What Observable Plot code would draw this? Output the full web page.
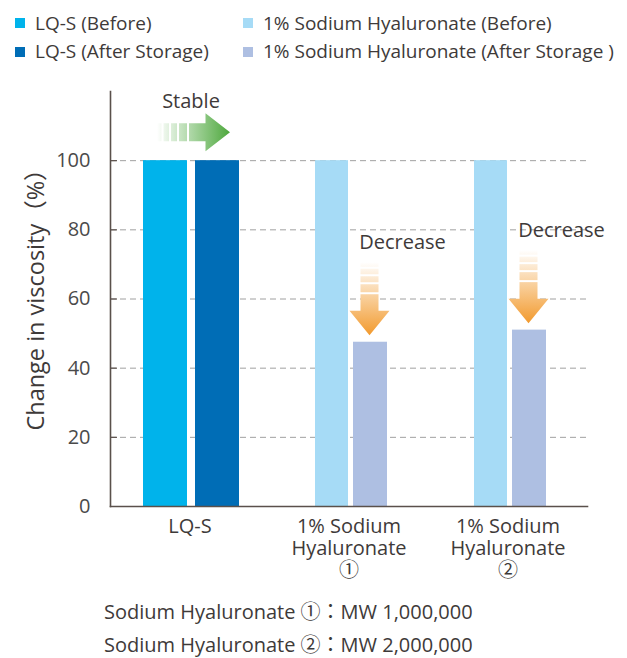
<!DOCTYPE html>
<html>
<head>
<meta charset="utf-8">
<script src="https://cdn.jsdelivr.net/npm/d3@7"></script>
<script src="https://cdn.jsdelivr.net/npm/@observablehq/plot@0.6"></script>
<style>
  body { margin: 0; background: #fff; font-family: "Open Sans", "Noto Sans", "Noto Sans CJK JP", sans-serif; color: #3e3a39; }
  #wrap { position: relative; width: 627px; height: 658px; overflow: hidden; }
  #legend { position: relative; height: 70px; }
  .li { position: absolute; font-size: 19px; white-space: nowrap; line-height: 26px; }
  .sw { position: absolute; width: 10px; height: 10px; }
  #chart { position: absolute; left: 0; top: 70px; }
  .fn { position: absolute; left: 104px; font-size: 20px; white-space: nowrap; line-height: 28px; }
</style>
</head>
<body>
<div id="wrap">
  <div id="legend"></div>
  <div id="chart"></div>
  <div id="footer"></div>
</div>
<script>
// ---- data ----
const groups = ["LQ-S", "1% Sodium\nHyaluronate\n①", "1% Sodium\nHyaluronate\n②"];
const beforeValues = [100, 100, 100];
const afterValues = [100, 47.5, 51];
const seriesLabels = ["LQ-S (Before)", "LQ-S (After Storage)", "1% Sodium Hyaluronate (Before)", "1% Sodium Hyaluronate (After Storage )"];
const seriesColors = ["#00b3eb", "#006db6", "#a6dbf6", "#aebfe2"];
const yTicks = [0, 20, 40, 60, 80, 100];
const yLabel = "Change in viscosity（%）";
const stableText = "Stable";
const decreaseText = "Decrease";
const footnotes = ["Sodium Hyaluronate ①：MW 1,000,000", "Sodium Hyaluronate ②：MW 2,000,000"];

// ---- table ----
const rows = groups.flatMap((g, i) => [
  {group: g, phase: "Before", value: beforeValues[i], series: seriesLabels[i === 0 ? 0 : 2]},
  {group: g, phase: "After", value: afterValues[i], series: seriesLabels[i === 0 ? 1 : 3]}
]);

// ---- legend ----
const legend = document.getElementById("legend");
const legPos = [[15, 30], [15, 58.5], [243, 30], [243, 58.5]]; // swatch left, text baseline
seriesLabels.forEach((s, i) => {
  const [x, base] = legPos[i];
  const sw = document.createElement("div");
  sw.className = "sw"; sw.style.left = x + "px"; sw.style.top = (base - 12) + "px"; sw.style.background = seriesColors[i];
  const t = document.createElement("div");
  t.className = "li"; t.style.left = (x + 20) + "px"; t.style.top = (base - 20.3) + "px"; t.textContent = s;
  legend.appendChild(sw); legend.appendChild(t);
});

// ---- chart ----
const axisColor = "#5a504b";
const textColor = "#3e3a39";
const fontFamily = '"Open Sans", "Noto Sans", "Noto Sans CJK JP", sans-serif';
const bar = (series, insetLeft, insetRight) => Plot.barY(rows.filter(d => d.series === series), {
  x: "group", y: "value", fill: "series", insetLeft, insetRight
});

const plot = Plot.plot({
  width: 627,
  height: 520,
  marginLeft: 110,
  marginRight: 40,
  marginTop: 21,
  marginBottom: 84,
  style: {fontFamily, color: textColor, background: "#fff"},
  x: {domain: groups, padding: 0},
  y: {domain: [0, 120]},
  color: {domain: seriesLabels, range: seriesColors},
  marks: [
    Plot.gridY(yTicks.filter(t => t > 0), {stroke: "#a0a0a0", strokeOpacity: 1, strokeDasharray: "6,4"}),
    Plot.gridY(yTicks.filter(t => t > 0), {stroke: axisColor, strokeOpacity: 1, strokeWidth: 1.2, strokeDasharray: "7,2000"}),
    bar(seriesLabels[0], 33, 82),
    bar(seriesLabels[1], 85, 30),
    bar(seriesLabels[2], 46, 80),
    bar(seriesLabels[3], 84, 41),
    Plot.frame({anchor: "left", stroke: axisColor, strokeWidth: 1.6}),
    Plot.frame({anchor: "bottom", stroke: axisColor, strokeWidth: 1.6}),
    Plot.axisY({ticks: yTicks, tickSize: 0, tickPadding: 20, fontSize: 20, label: null, fill: "#4a4a4a"}),
    Plot.axisX({tickSize: 0, tickPadding: 11, fontSize: 20, lineHeight: 1.1, label: null, fill: textColor}),
    Plot.text([yLabel], {frameAnchor: "left", textAnchor: "middle", rotate: -90, dx: -74, dy: -5, fontSize: 23.5, fill: textColor}),
    Plot.text(rows.filter(d => d.group === groups[0] && d.phase === "Before"), {x: "group", y: "value", text: () => stableText, dx: 1, dy: -59, fontSize: 20, fill: textColor}),
    Plot.text(rows.filter(d => d.group !== groups[0] && d.phase === "After"), {x: "group", y: "value", text: () => decreaseText, dx: 53.5, dy: -99.5, fontSize: 20, fill: textColor})
  ]
});
document.getElementById("chart").appendChild(plot);

// ---- arrows (positioned through the plot's scales) ----
const xs = plot.scale("x"), ys = plot.scale("y");
const bw = xs.bandwidth;
const svg = d3.select(plot);
const defs = svg.append("defs");
function grad(id, color) {
  const g = defs.append("linearGradient").attr("id", id).attr("gradientUnits", "userSpaceOnUse")
    .attr("x1", -73).attr("y1", 0).attr("x2", 0).attr("y2", 0);
  g.append("stop").attr("offset", 0).attr("stop-color", "#ffffff");
  g.append("stop").attr("offset", 0.45).attr("stop-color", d3.interpolateRgb("#ffffff", color)(0.45));
  g.append("stop").attr("offset", 1).attr("stop-color", color);
}
grad("gGreen", "#4ea83d");
grad("gOrange", "#f29a2e");
function arrow(transform, gradId, hw) {
  const L = 73, H = 24.5, w = 9;
  const g = svg.append("g").attr("transform", transform);
  g.append("path")
    .attr("d", `M${-L},${-w}L${-H},${-w}L${-H},${-hw}L0,0L${-H},${hw}L${-H},${w}L${-L},${w}Z`)
    .attr("fill", `url(#${gradId})`);
  [-67.5, -60, -52, -42].forEach(t => {
    g.append("rect").attr("x", t - 1).attr("y", -w - 1).attr("width", 2).attr("height", 2 * w + 2).attr("fill", "#fff");
  });
}
// Stable arrow (horizontal) over LQ-S
arrow(`translate(${xs.apply(groups[0]) + bw / 2 + 40.5},${ys.apply(beforeValues[0]) - 28})`, "gGreen", 19);
// Decrease arrows over the stored hyaluronate bars
[1, 2].forEach(i => {
  const cx = xs.apply(groups[i]) + 100.5;
  const tip = ys.apply(afterValues[i]) - 6.5;
  arrow(`translate(${cx},${tip}) rotate(90)`, "gOrange", 20);
});

// ---- footer ----
const footer = document.getElementById("footer");
footnotes.forEach((f, i) => {
  const d = document.createElement("div");
  d.className = "fn"; d.style.top = (598 + i * 33) + "px"; d.textContent = f;
  footer.appendChild(d);
});
</script>
</body>
</html>
